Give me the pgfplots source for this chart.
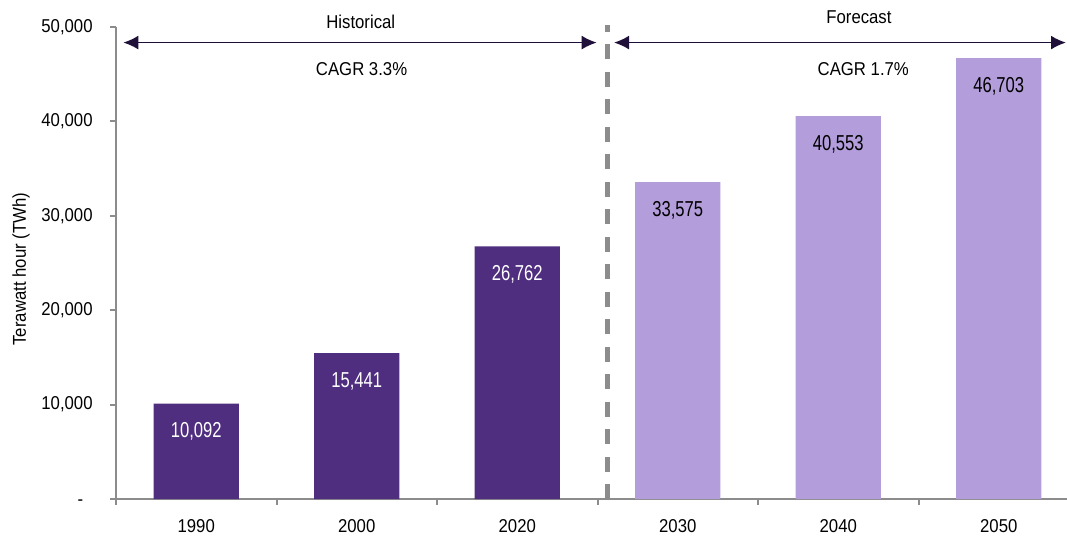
\documentclass[border=0pt]{standalone}
\usepackage{fontspec}
\setmainfont{Liberation Sans}[FakeStretch=0.9]
\newfontfamily\barfont{Liberation Sans}[FakeStretch=0.77]
\usepackage{pgfplots}
\pgfplotsset{compat=1.18}
\usetikzlibrary{arrows.meta}
\definecolor{darkp}{HTML}{4F2D7F}
\definecolor{lightp}{HTML}{B39DDB}
\definecolor{axgray}{HTML}{8C8C8C}
\definecolor{arrowc}{HTML}{1E1038}
\begin{document}
\fontsize{9.3}{11}\selectfont
\begin{tikzpicture}
\begin{axis}[
  width=481.5pt, height=236pt, scale only axis,
  xmin=-0.5, xmax=5.5, ymin=0, ymax=50000,
  clip=false,
  axis lines=left,
  axis line style={draw=axgray, line width=1pt, -},
  tick style={draw=axgray, line width=1pt},
  tick align=outside, major tick length=2.8pt,
  xtick={-0.5,0.5,...,5.5},
  xticklabels={1990,2000,2020,2030,2040,2050},
  x tick label as interval,
  ytick={0,10000,20000,30000,40000,50000},
  yticklabels={{-\phantom{0}},{10,000},{20,000},{30,000},{40,000},{50,000}},
  scaled y ticks=false,
  yticklabel style={anchor=east, inner sep=0pt, xshift=-8.7pt},
  xticklabel style={anchor=north, inner sep=0pt, yshift=-7.2pt},
  ylabel={Terawatt hour (TWh)},
  ylabel style={at={(axis description cs:0,0.487)}, anchor=center, yshift=47.5pt},
]
\addplot[ybar, bar width=0.53, bar shift=0pt, fill=darkp, draw=none,
  nodes near coords={\pgfmathprintnumber[assume math mode=true, 1000 sep={,}, fixed, precision=0]{\pgfplotspointmeta}},
  every node near coord/.append style={anchor=base, yshift=-17pt, text=white, font={\fontsize{10.8}{12}\barfont}}]
  coordinates {(0,10092) (1,15441) (2,26762)};
\addplot[ybar, bar width=0.53, bar shift=0pt, fill=lightp, draw=none,
  nodes near coords={\pgfmathprintnumber[assume math mode=true, 1000 sep={,}, fixed, precision=0]{\pgfplotspointmeta}},
  every node near coord/.append style={anchor=base, yshift=-17pt, text=black, font={\fontsize{10.8}{12}\barfont}}]
  coordinates {(3,33575) (4,40553) (5,46703)};
\draw[axgray, line width=2.2pt, dash pattern=on 7.5pt off 6.25pt] (axis cs:2.563,0) -- (axis cs:2.563,50200);
\draw[arrowc, line width=0.9pt, {Latex[length=7.5pt,width=7pt]}-{Latex[length=7.5pt,width=7pt]}] (axis cs:-0.4545,48350) -- (axis cs:2.495,48350);
\draw[arrowc, line width=0.9pt, {Latex[length=7.5pt,width=7pt]}-{Latex[length=7.5pt,width=7pt]}] (axis cs:2.603,48350) -- (axis cs:5.419,48350);
\node[anchor=base, inner sep=0pt] at (axis cs:1.025,49860) {Historical};
\node[anchor=base, inner sep=0pt] at (axis cs:1.03,44915) {CAGR 3.3\%};
\node[anchor=base, inner sep=0pt] at (axis cs:4.129,50392) {Forecast};
\node[anchor=base, inner sep=0pt] at (axis cs:4.156,44915) {CAGR 1.7\%};
\coordinate (SW) at (rel axis cs:0,0);
\coordinate (NE) at (rel axis cs:1,1);
\end{axis}
\pgfresetboundingbox
\path[use as bounding box] ([shift={(-58pt,-19pt)}]SW) rectangle ([shift={(-6pt,13.5pt)}]NE);
\end{tikzpicture}
\end{document}
